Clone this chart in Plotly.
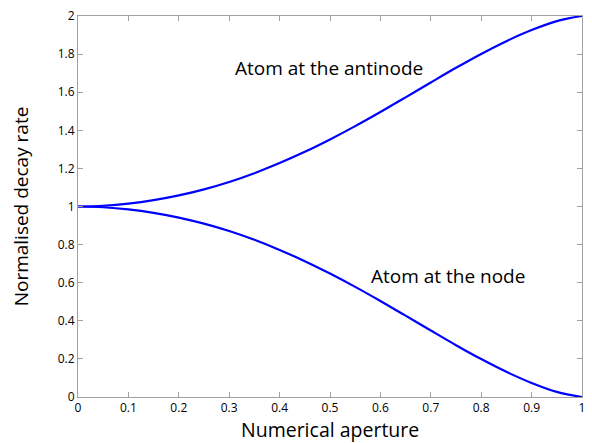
import plotly.graph_objects as go

na = [0.0, 0.05, 0.1, 0.15, 0.2, 0.25, 0.3, 0.35, 0.4, 0.45, 0.5, 0.55,
      0.6, 0.65, 0.7, 0.75, 0.8, 0.85, 0.9, 0.95, 1.0]
antinode = [1.0, 1.004, 1.015, 1.033, 1.058, 1.090, 1.129, 1.175, 1.228, 1.287, 1.352, 1.422,
            1.496, 1.573, 1.651, 1.728, 1.801, 1.868, 1.926, 1.973, 2.0]
node = [1.0, 0.996, 0.985, 0.967, 0.942, 0.910, 0.871, 0.825, 0.772, 0.713, 0.648, 0.578,
        0.504, 0.427, 0.349, 0.272, 0.199, 0.132, 0.074, 0.027, 0.0]

xticks = [0, 0.1, 0.2, 0.3, 0.4, 0.5, 0.6, 0.7, 0.8, 0.9, 1]
xticklabels = ["0", "0.1", "0.2", "0.3", "0.4", "0.5", "0.6", "0.7", "0.8", "0.9", "1"]
yticks = [0, 0.2, 0.4, 0.6, 0.8, 1, 1.2, 1.4, 1.6, 1.8, 2]
yticklabels = ["0", "0.2", "0.4", "0.6", "0.8", "1", "1.2", "1.4", "1.6", "1.8", "2"]

font_family = "Open Sans, Noto Sans, sans-serif"

fig = go.Figure()
for y in (antinode, node):
    fig.add_trace(go.Scatter(x=na, y=y, mode="lines",
                             line=dict(color="#0000ff", width=2.2, shape="spline", smoothing=1.0),
                             showlegend=False, hoverinfo="skip"))

fig.add_annotation(x=0.4975, y=1.727, text="Atom at the antinode", showarrow=False,
                   font=dict(size=19, color="black", family=font_family))
fig.add_annotation(x=0.734, y=0.635, text="Atom at the node", showarrow=False,
                   font=dict(size=19, color="black", family=font_family))
# x-axis title placed as a paper annotation for exact vertical placement
fig.add_annotation(x=0.5, y=0, xref="paper", yref="paper", yanchor="middle", yshift=-32,
                   text="Numerical aperture", showarrow=False,
                   font=dict(size=19.5, color="black", family=font_family))

axis_common = dict(showgrid=False, zeroline=False, showline=True, linecolor="#a0a0a0",
                   linewidth=1, mirror="ticks", ticks="inside", ticklen=5, automargin=False,
                   ticklabeloverflow="allow",
                   tickcolor="#a0a0a0", tickfont=dict(size=12, color="black", family=font_family))

fig.update_xaxes(range=[0, 1], tickvals=xticks, ticktext=xticklabels, **axis_common)
fig.update_yaxes(range=[0, 2], tickvals=yticks, ticktext=yticklabels,
                 title=dict(text="Normalised decay rate", font=dict(size=19, color="black", family=font_family),
                            standoff=25),
                 **axis_common)

# the page body adds an 8px margin, so the figure is sized and offset to compensate
fig.update_layout(width=584, height=435, margin=dict(l=70, r=10, t=8, b=46),
                  plot_bgcolor="white", paper_bgcolor="white")

fig.write_html("out.html")
